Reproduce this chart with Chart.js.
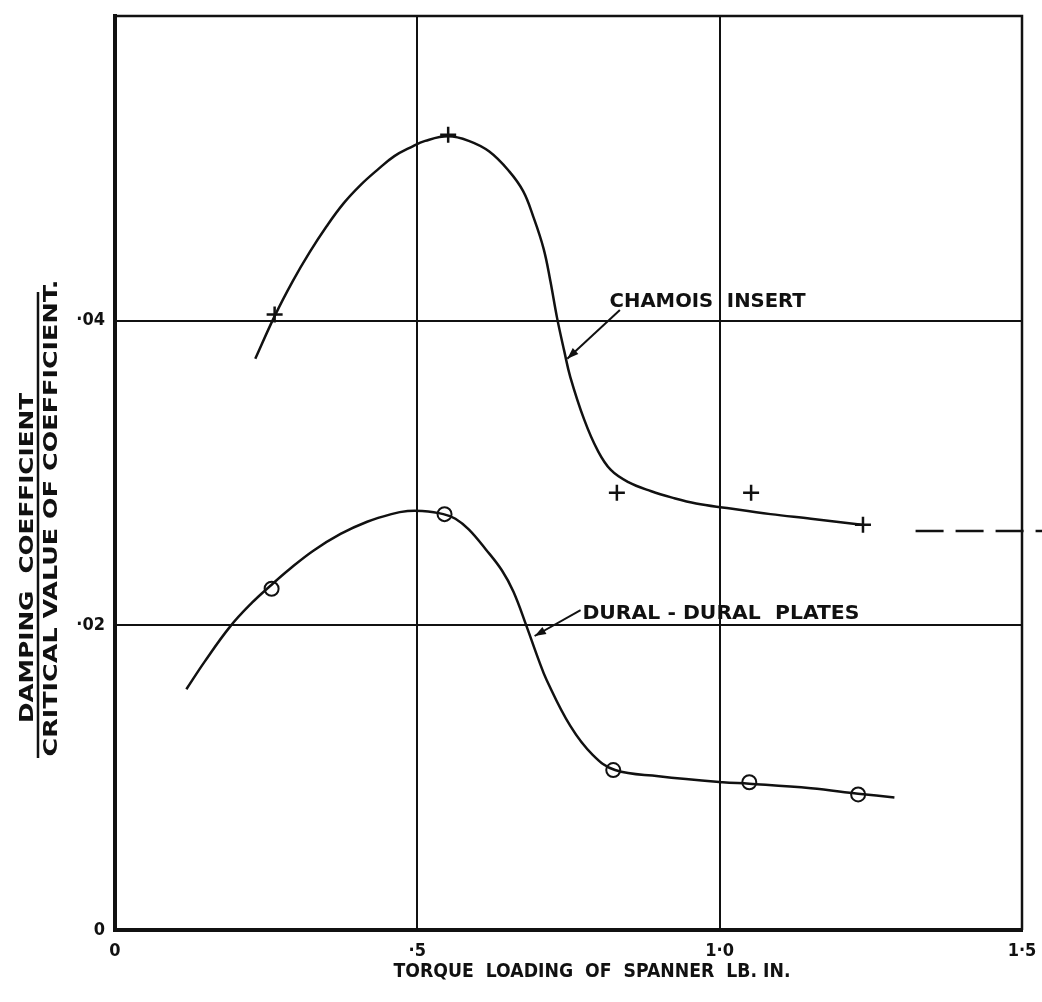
<!DOCTYPE html>
<html>
<head>
<meta charset="utf-8">
<script src="https://cdn.jsdelivr.net/npm/chart.js@4.4.1/dist/chart.umd.min.js"></script>
<style>
    html, body { margin: 0; padding: 0; background: #fff; }
    #wrap { width: 1042px; height: 1002px; }
</style>
</head>
<body>
<div id="wrap"><canvas id="dampingChart"></canvas></div>
<script>
// Values
const xTickLabels = ['0', '·5', '1·0', '1·5'];
const yTickLabels = ['0', '·02', '·04', ''];

// Chamois insert: measured points (+) and the faired curve
const chamoisX = [0.264, 0.551, 0.83, 1.052, 1.237];
const chamoisY = [0.0404, 0.0522, 0.0287, 0.0287, 0.0266];
const chamoisCurveX = [0.232, 0.264, 0.294, 0.322, 0.35, 0.378, 0.406, 0.434, 0.462, 0.49, 0.513, 0.551, 0.585, 0.619, 0.652, 0.675, 0.692, 0.709, 0.72, 0.731, 0.743, 0.753, 0.776, 0.798, 0.82, 0.849, 0.887, 0.92, 0.961, 1.012, 1.084, 1.151, 1.235];
const chamoisCurveY = [0.0375, 0.0403, 0.0426, 0.0445, 0.0462, 0.0477, 0.0489, 0.0499, 0.0508, 0.0514, 0.0518, 0.0521, 0.0518, 0.0511, 0.0498, 0.0485, 0.0468, 0.0447, 0.0426, 0.0402, 0.038, 0.0363, 0.0335, 0.0315, 0.0302, 0.0294, 0.0288, 0.0284, 0.028, 0.0277, 0.0273, 0.027, 0.0266];
const chamoisDashX = [1.324, 1.545];
const chamoisDashY = [0.0262, 0.0262];

// Dural - dural plates: measured points (o) and the faired curve
const duralX = [0.259, 0.545, 0.824, 1.049, 1.229];
const duralY = [0.0224, 0.0273, 0.0105, 0.0097, 0.0089];
const duralCurveX = [0.118, 0.148, 0.19, 0.227, 0.257, 0.289, 0.328, 0.373, 0.417, 0.457, 0.484, 0.508, 0.543, 0.563, 0.585, 0.613, 0.64, 0.659, 0.681, 0.7, 0.714, 0.753, 0.79, 0.827, 0.899, 1.005, 1.049, 1.151, 1.229, 1.289];
const duralCurveY = [0.0158, 0.0176, 0.0199, 0.0215, 0.0226, 0.0237, 0.0249, 0.026, 0.0268, 0.0273, 0.0275, 0.0275, 0.0273, 0.027, 0.0263, 0.025, 0.0236, 0.0222, 0.0199, 0.0178, 0.0164, 0.0134, 0.0115, 0.0105, 0.0101, 0.0097, 0.0096, 0.0093, 0.00895, 0.0087];

const FONT = '"DejaVu Sans Condensed", "Liberation Sans Narrow", "DejaVu Sans", sans-serif';
const INK = '#111';

function toPoints(xs, ys) {
    return xs.map((x, i) => ({ x: x, y: ys[i] }));
}

// capital lettering stretched to the width it takes on the drawing
function letter(ctx, text, cx, cy, width, size) {
    ctx.save();
    ctx.font = 'bold ' + size + 'px ' + FONT;
    ctx.textAlign = 'center';
    ctx.textBaseline = 'alphabetic';
    const w = ctx.measureText(text).width;
    ctx.translate(cx, cy + size * 0.36);
    ctx.scale(width / w, 1);
    ctx.fillText(text, 0, 0);
    ctx.restore();
}

// axis titles, callout labels and the top/right frame
const paperPlugin = {
    id: 'paper',
    afterDraw(chart) {
        const ctx = chart.ctx;
        const area = chart.chartArea;
        const xs = chart.scales.x;
        const ys = chart.scales.y;

        ctx.save();
        ctx.strokeStyle = INK;
        ctx.fillStyle = INK;
        ctx.lineWidth = 2.5;
        ctx.beginPath();
        ctx.moveTo(area.left, area.top);
        ctx.lineTo(area.right, area.top);
        ctx.lineTo(area.right, area.bottom);
        ctx.stroke();

        // x title
        letter(ctx, 'TORQUE  LOADING  OF  SPANNER  LB. IN.', 592, 970, 397, 19);

        // y title as a fraction, rotated
        ctx.save();
        ctx.translate(38, 0);
        ctx.rotate(-Math.PI / 2);
        letter(ctx, 'DAMPING  COEFFICIENT', -558, -12.5, 330, 20);
        letter(ctx, 'CRITICAL VALUE OF COEFFICIENT.', -518, 11.5, 477, 20);
        ctx.lineWidth = 2.5;
        ctx.beginPath();
        ctx.moveTo(-758, 0);
        ctx.lineTo(-292, 0);
        ctx.stroke();
        ctx.restore();

        // callouts
        const callouts = [
            { text: 'CHAMOIS  INSERT', tx: 0.818, ty: 0.0414, tw: 196, ax: 0.835, ay: 0.0407, bx: 0.748, by: 0.0375 },
            { text: 'DURAL - DURAL  PLATES', tx: 0.773, ty: 0.0209, tw: 277, ax: 0.770, ay: 0.0210, bx: 0.694, by: 0.0193 }
        ];
        callouts.forEach(c => {
            const left = xs.getPixelForValue(c.tx);
            letter(ctx, c.text, left + c.tw / 2, ys.getPixelForValue(c.ty), c.tw, 20);
            const x1 = xs.getPixelForValue(c.ax), y1 = ys.getPixelForValue(c.ay);
            const x2 = xs.getPixelForValue(c.bx), y2 = ys.getPixelForValue(c.by);
            ctx.lineWidth = 2;
            ctx.beginPath();
            ctx.moveTo(x1, y1);
            ctx.lineTo(x2, y2);
            ctx.stroke();
            const ang = Math.atan2(y2 - y1, x2 - x1);
            ctx.beginPath();
            ctx.moveTo(x2, y2);
            ctx.lineTo(x2 - 12 * Math.cos(ang - 0.35), y2 - 12 * Math.sin(ang - 0.35));
            ctx.lineTo(x2 - 12 * Math.cos(ang + 0.35), y2 - 12 * Math.sin(ang + 0.35));
            ctx.closePath();
            ctx.fill();
        });
        ctx.restore();
    }
};

const curveStyle = {
    type: 'line',
    showLine: true,
    borderColor: INK,
    borderWidth: 2.5,
    pointRadius: 0,
    tension: 0.4,
    fill: false
};

const dampingConfig = {
    type: 'scatter',
    data: {
        datasets: [
            Object.assign({ label: 'Chamois curve', data: toPoints(chamoisCurveX, chamoisCurveY) }, curveStyle),
            {
                label: 'Chamois extension',
                type: 'line',
                data: toPoints(chamoisDashX, chamoisDashY),
                borderColor: INK,
                borderWidth: 2.5,
                borderDash: [28, 12],
                pointRadius: 0,
                clip: false
            },
            {
                label: 'Chamois insert',
                data: toPoints(chamoisX, chamoisY),
                pointStyle: 'cross',
                pointRadius: 8,
                borderColor: INK,
                borderWidth: 2.5
            },
            Object.assign({ label: 'Dural curve', data: toPoints(duralCurveX, duralCurveY) }, curveStyle),
            {
                label: 'Dural - dural plates',
                data: toPoints(duralX, duralY),
                pointStyle: 'circle',
                pointRadius: 7,
                backgroundColor: '#fff',
                borderColor: INK,
                borderWidth: 2
            },
            {
                label: 'Dural centres',
                data: toPoints(duralX, duralY),
                pointStyle: 'circle',
                pointRadius: 1.5,
                backgroundColor: INK,
                borderColor: INK,
                borderWidth: 0
            }
        ]
    },
    options: {
        responsive: false,
        animation: false,
        layout: {
            padding: { top: 16, right: 20, left: 0, bottom: 0 }
        },
        plugins: {
            legend: { display: false },
            tooltip: { enabled: false }
        },
        scales: {
            x: {
                type: 'linear',
                min: 0,
                max: 1.5,
                afterFit: function (scale) {
                    scale.height = 72;
                    scale.paddingLeft = 0;
                    scale.paddingRight = 0;
                },
                border: { color: INK, width: 4 },
                grid: { color: INK, lineWidth: 2, drawTicks: false },
                ticks: {
                    stepSize: 0.5,
                    padding: 11,
                    color: INK,
                    font: { family: FONT, size: 18, weight: 'bold' },
                    callback: function (value, index) { return xTickLabels[index]; }
                }
            },
            y: {
                type: 'linear',
                min: 0,
                max: 0.06,
                afterFit: function (scale) {
                    scale.width = 115;
                    scale.paddingTop = 0;
                    scale.paddingBottom = 0;
                },
                border: { color: INK, width: 4 },
                grid: { color: INK, lineWidth: 2, drawTicks: false },
                ticks: {
                    stepSize: 0.02,
                    padding: 10,
                    color: INK,
                    font: { family: FONT, size: 18, weight: 'bold' },
                    callback: function (value, index) { return yTickLabels[index]; }
                }
            }
        }
    },
    plugins: [paperPlugin]
};

const canvas = document.getElementById('dampingChart');
canvas.width = 1042;
canvas.height = 1002;
new Chart(canvas, dampingConfig);
</script>
</body>
</html>
